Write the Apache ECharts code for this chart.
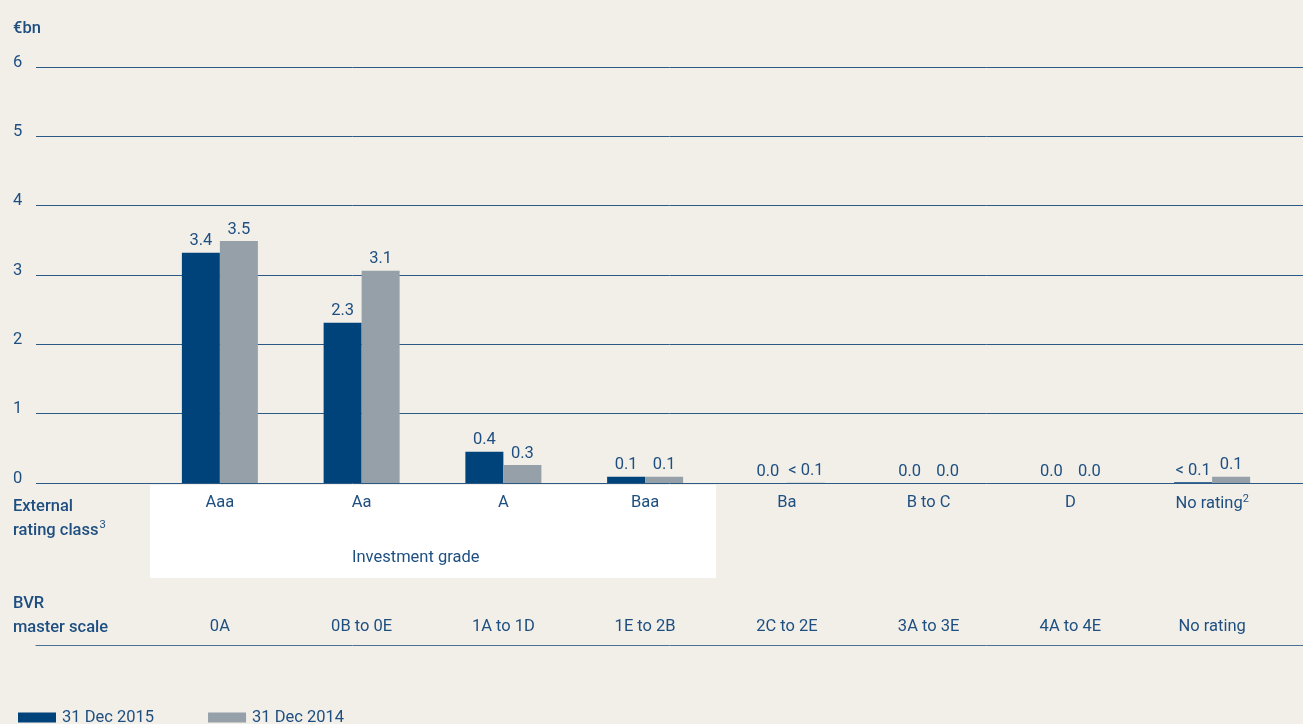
<!DOCTYPE html>
<html>
<head>
<meta charset="utf-8">
<script src="https://cdn.jsdelivr.net/npm/echarts@6/dist/echarts.min.js"></script>
<style>
  html, body { margin: 0; padding: 0; background: #f2efe9; }
  #chart { width: 1303px; height: 724px; }
</style>
</head>
<body>
<div id="chart"></div>
<script>
const ratingClasses = ['Aaa', 'Aa', 'A', 'Baa', 'Ba', 'B to C', 'D', 'No rating{sup|2}'];
const bvrScale = ['0A', '0B to 0E', '1A to 1D', '1E to 2B', '2C to 2E', '3A to 3E', '4A to 4E', 'No rating'];
const values2015 = [3.32, 2.31, 0.45, 0.09, 0, 0, 0, 0.01];
const values2014 = [3.49, 3.06, 0.26, 0.09, 0.005, 0, 0, 0.09];
const labels2015 = ['3.4', '2.3', '0.4', '0.1', '0.0', '0.0', '0.0', '< 0.1'];
const labels2014 = ['3.5', '3.1', '0.3', '0.1', '< 0.1', '0.0', '0.0', '0.1'];
const yTicks = [0, 1, 2, 3, 4, 5, 6];

const blue = '#1e4f80';
const font = 'Roboto';
const fs = 16.5;

var chart = echarts.init(document.getElementById('chart'));

const valueLabel = (labels) => ({
  show: true,
  position: 'top',
  distance: 3,
  fontFamily: font,
  fontSize: fs,
  color: blue,
  formatter: (p) => labels[p.dataIndex]
});

const option = {
  backgroundColor: '#f2efe9',
  textStyle: { fontFamily: font },
  grid: [
    { left: 36, right: 0, top: 67, bottom: 241 },
    { left: 149, right: 20, top: 67, bottom: 241 }
  ],
  graphic: [
    { type: 'rect', z: -1, shape: { x: 150, y: 485, width: 566, height: 93 }, style: { fill: '#ffffff' } },
    { type: 'text', left: 13, top: 20, style: { text: '€bn', font: '500 16.5px Roboto', fill: blue } },
    { type: 'text', left: 352, top: 549, style: { text: 'Investment grade', font: '16.5px Roboto', fill: blue } },
    {
      type: 'text', left: 13, top: 495,
      style: {
        text: 'External\nrating class{sup|3}',
        font: '500 16.5px Roboto', fill: blue, lineHeight: 24,
        rich: { sup: { fontSize: 11, fontWeight: 500, verticalAlign: 'top', lineHeight: 20, padding: [0, 0, 10, 1], fill: blue } }
      }
    },
    { type: 'text', left: 13, top: 592, style: { text: 'BVR\nmaster scale', font: '500 16.5px Roboto', fill: blue, lineHeight: 24 } }
  ],
  legend: {
    left: 13, top: 704,
    itemWidth: 38, itemHeight: 10, itemGap: 54,
    icon: 'rect',
    textStyle: { fontFamily: font, fontSize: fs, color: blue, padding: [0, 0, 0, 1] },
    data: ['31 Dec 2015', '31 Dec 2014']
  },
  xAxis: [
    {
      type: 'value', gridIndex: 0, min: 0, max: 1, offset: 162,
      axisLine: { show: true, onZero: false, lineStyle: { color: '#4a7096', width: 1 } },
      axisTick: { show: false }, axisLabel: { show: false }, splitLine: { show: false }
    },
    {
      type: 'category', gridIndex: 1, data: ratingClasses,
      axisLine: { show: false }, axisTick: { show: false },
      axisLabel: {
        interval: 0, margin: 11, fontFamily: font, fontSize: fs, color: blue,
        rich: { sup: { fontSize: 11, verticalAlign: 'top', padding: [0, 0, 8, 0], color: blue } }
      }
    },
    {
      type: 'category', gridIndex: 1, data: bvrScale, position: 'bottom', offset: 135,
      axisLine: { show: false }, axisTick: { show: false },
      axisLabel: { interval: 0, margin: 0, fontFamily: font, fontSize: fs, color: blue }
    }
  ],
  yAxis: [
    {
      type: 'value', gridIndex: 0, min: 0, max: 6, interval: 1,
      axisLine: { show: false }, axisTick: { show: false },
      axisLabel: {
        align: 'left', margin: 23, fontFamily: font, fontSize: fs, color: blue,
        verticalAlign: 'bottom', padding: [0, 0, -4, 0],
        formatter: (v) => yTicks.includes(v) ? String(v) : ''
      },
      splitLine: { lineStyle: { color: '#2b5a87', width: 1 } }
    },
    {
      type: 'value', gridIndex: 1, min: 0, max: 6, interval: 1,
      axisLine: { show: false }, axisTick: { show: false },
      axisLabel: { show: false }, splitLine: { show: false }
    }
  ],
  series: [
    {
      name: '31 Dec 2015', type: 'bar', xAxisIndex: 1, yAxisIndex: 1,
      data: values2015, barWidth: 38, barGap: '0%',
      itemStyle: { color: '#00427a' },
      label: valueLabel(labels2015)
    },
    {
      name: '31 Dec 2014', type: 'bar', xAxisIndex: 1, yAxisIndex: 1,
      data: values2014, barWidth: 38, barGap: '0%',
      itemStyle: { color: '#95a0a8' },
      label: valueLabel(labels2014)
    }
  ]
};

chart.setOption(option);
</script>
</body>
</html>
